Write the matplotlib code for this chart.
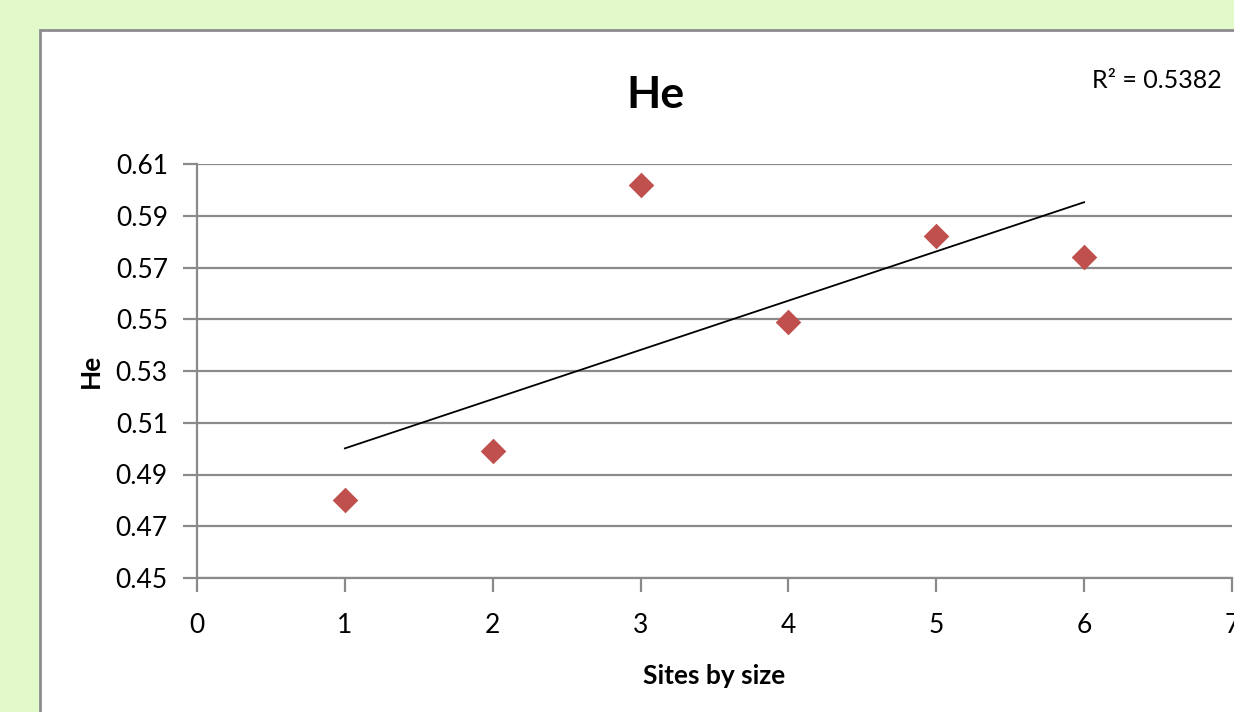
import numpy as np
import matplotlib.pyplot as plt
from matplotlib.patches import Rectangle

# data
sites = [1, 2, 3, 4, 5, 6]
he = [0.480, 0.499, 0.602, 0.549, 0.582, 0.574]
r2_label = 'R² = 0.5382'
yticks = [0.45, 0.47, 0.49, 0.51, 0.53, 0.55, 0.57, 0.59, 0.61]
xticks = [0, 1, 2, 3, 4, 5, 6, 7]

plt.rcParams['font.family'] = ['Lato', 'DejaVu Sans']

fig = plt.figure(figsize=(12.34, 7.12), dpi=100)
fig.patch.set_facecolor('#e2f9c9')

# white chart area with grey border
fig.patches.append(Rectangle((40 / 1234, -0.05), 1.1, 1 - 30 / 712 + 0.05,
                             transform=fig.transFigure, facecolor='white',
                             edgecolor='#8c8c8c', linewidth=2, zorder=-5))

ax = fig.add_axes([197 / 1234, 1 - 578 / 712, (1232 - 197) / 1234, (578 - 164) / 712])
ax.set_facecolor('none')

# trend line
coef = np.polyfit(sites, he, 1)
xs = np.array([sites[0], sites[-1]])
ax.plot(xs, np.polyval(coef, xs), color='black', lw=1.3, zorder=3)

ax.scatter(sites, he, marker='D', s=170, color='#c0504d', zorder=4, linewidths=0)

ax.set_xlim(0, 7)
ax.set_ylim(0.45, 0.61)
ax.set_xticks(xticks)
ax.set_yticks(yticks)
ax.set_yticklabels([f'{v:.2f}' for v in yticks])
ax.grid(axis='y', color='#8a8a8a', lw=1.6)
ax.set_axisbelow(True)

for s in ['top', 'right']:
    ax.spines[s].set_visible(False)
for s in ['left', 'bottom']:
    ax.spines[s].set_color('#8a8a8a')
    ax.spines[s].set_linewidth(1.6)
ax.tick_params(colors='#8a8a8a', length=10, width=1.6, labelsize=19, labelcolor='black')
ax.tick_params(axis='x', pad=15)
ax.tick_params(axis='y', pad=11)

ax.set_xlabel('Sites by size', fontsize=19, fontweight='bold', labelpad=19)
ax.set_ylabel('He', fontsize=19, fontweight='bold', labelpad=9)

fig.text(655 / 1234, 1 - 95 / 712, 'He', fontsize=32, fontweight='bold', ha='center', va='center')
fig.text(1222 / 1234, 1 - 80 / 712, r2_label, fontsize=18, ha='right', va='center')

fig.savefig('out.png', dpi=100, facecolor=fig.get_facecolor())
